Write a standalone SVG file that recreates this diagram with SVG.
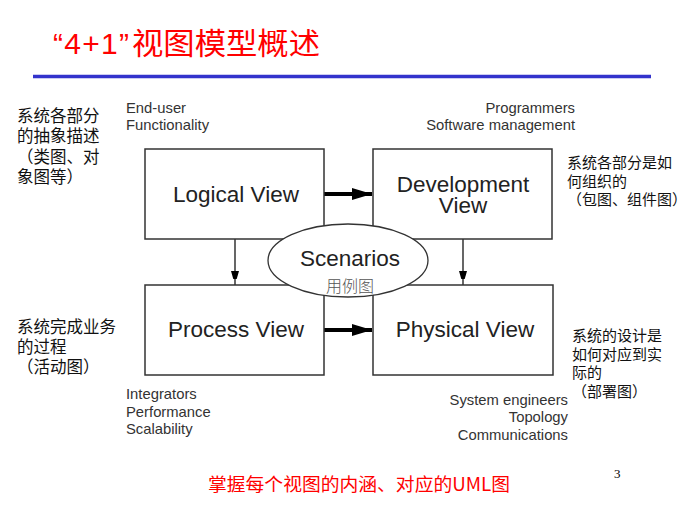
<svg xmlns="http://www.w3.org/2000/svg" width="696" height="508" viewBox="0 0 696 508">
<style>
.box{fill:#fff;stroke:#333;stroke-width:1.5}
.lbl{font-family:"Liberation Sans",Arial,sans-serif;font-size:22.5px;fill:#222;text-anchor:middle}
.sm{font-family:"Liberation Sans",Arial,sans-serif;font-size:14.8px;fill:#333}
.cn{font-family:"Noto Sans CJK SC",sans-serif;fill:#111}
.thick{stroke:#000;stroke-width:4;fill:none}
.thin{stroke:#000;stroke-width:1.2;fill:none}
</style>
<defs>
<marker id="big" markerUnits="userSpaceOnUse" markerWidth="20" markerHeight="12" refX="20" refY="6" orient="auto"><path d="M0,0 L20,6 L0,12 Z" fill="#000"/></marker>
<marker id="small" markerUnits="userSpaceOnUse" markerWidth="8" markerHeight="14" refX="14" refY="4" orient="auto"><path d="M0,0 L14,4 L0,8 Z" fill="#000"/></marker>
</defs>
<rect width="696" height="508" fill="#fff"/>
<text x="53" y="54" font-size="30" fill="#ff0000"><tspan font-family="'Liberation Sans',sans-serif" textLength="76" lengthAdjust="spacing">“4+1”</tspan><tspan x="132" font-family="'Noto Sans CJK SC',sans-serif" textLength="188" lengthAdjust="spacingAndGlyphs">视图模型概述</tspan></text>
<line x1="33" y1="76.5" x2="651" y2="76.5" stroke="#3333cc" stroke-width="3.5"/>

<g id="connectors">
<line class="thick" x1="324" y1="194" x2="372" y2="194" marker-end="url(#big)"/>
<line class="thick" x1="324" y1="330" x2="372" y2="330" marker-end="url(#big)"/>
<line class="thin" x1="235" y1="239" x2="235" y2="285" marker-end="url(#small)"/>
<line class="thin" x1="463" y1="239" x2="463" y2="285" marker-end="url(#small)"/>
</g>

<g id="logical"><rect class="box" x="145" y="149" width="179" height="90"/><text class="lbl" x="236" y="202">Logical View</text></g>
<g id="development"><rect class="box" x="373" y="149" width="179" height="90"/><text class="lbl" x="463" y="192">Development</text><text class="lbl" x="463" y="213">View</text></g>
<g id="process"><rect class="box" x="145" y="285" width="179" height="90"/><text class="lbl" x="236" y="337">Process View</text></g>
<g id="physical"><rect class="box" x="373" y="285" width="180" height="90"/><text class="lbl" x="465" y="337">Physical View</text></g>
<g id="scenarios"><ellipse cx="348" cy="260.5" rx="80" ry="36.5" fill="#fff" stroke="#333" stroke-width="1.3"/><text class="lbl" x="350" y="266">Scenarios</text><text x="350" y="292" font-family="'Noto Sans CJK SC',sans-serif" font-size="16" fill="#555" text-anchor="middle" font-weight="300">用例图</text></g>

<g id="logical-notes">
<text class="sm" x="126" y="113">End-user</text>
<text class="sm" x="126" y="130">Functionality</text>
<text class="cn" font-size="16.5" x="17" y="122">系统各部分</text>
<text class="cn" font-size="16.5" x="17" y="142">的抽象描述</text>
<text class="cn" font-size="16.5" x="17" y="163">（类图、对</text>
<text class="cn" font-size="16.5" x="17" y="183">象图等）</text>
</g>
<g id="dev-notes">
<text class="sm" x="575" y="113" text-anchor="end">Programmers</text>
<text class="sm" x="575" y="130" text-anchor="end">Software management</text>
<text class="cn" font-size="15" x="567" y="168">系统各部分是如</text>
<text class="cn" font-size="15" x="567" y="187">何组织的</text>
<text class="cn" font-size="15" x="567" y="205">（包图、组件图）</text>
</g>
<g id="process-notes">
<text class="sm" x="126" y="399">Integrators</text>
<text class="sm" x="126" y="417">Performance</text>
<text class="sm" x="126" y="434">Scalability</text>
<text class="cn" font-size="16.5" x="17" y="333">系统完成业务</text>
<text class="cn" font-size="16.5" x="17" y="353">的过程</text>
<text class="cn" font-size="16.5" x="17" y="373">（活动图）</text>
</g>
<g id="physical-notes">
<text class="sm" x="568" y="405" text-anchor="end">System engineers</text>
<text class="sm" x="568" y="422" text-anchor="end">Topology</text>
<text class="sm" x="568" y="440" text-anchor="end">Communications</text>
<text class="cn" font-size="15" x="572" y="341">系统的设计是</text>
<text class="cn" font-size="15" x="572" y="360">如何对应到实</text>
<text class="cn" font-size="15" x="572" y="378">际的</text>
<text class="cn" font-size="15" x="572" y="397">（部署图）</text>
</g>
<text x="208" y="491" font-family="'Noto Sans CJK SC',sans-serif" font-size="18" fill="#ff0000" textLength="302" lengthAdjust="spacingAndGlyphs">掌握每个视图的内涵、对应的UML图</text>
<text x="614" y="478" font-family="'Liberation Serif',serif" font-size="13" fill="#000">3</text>
</svg>
